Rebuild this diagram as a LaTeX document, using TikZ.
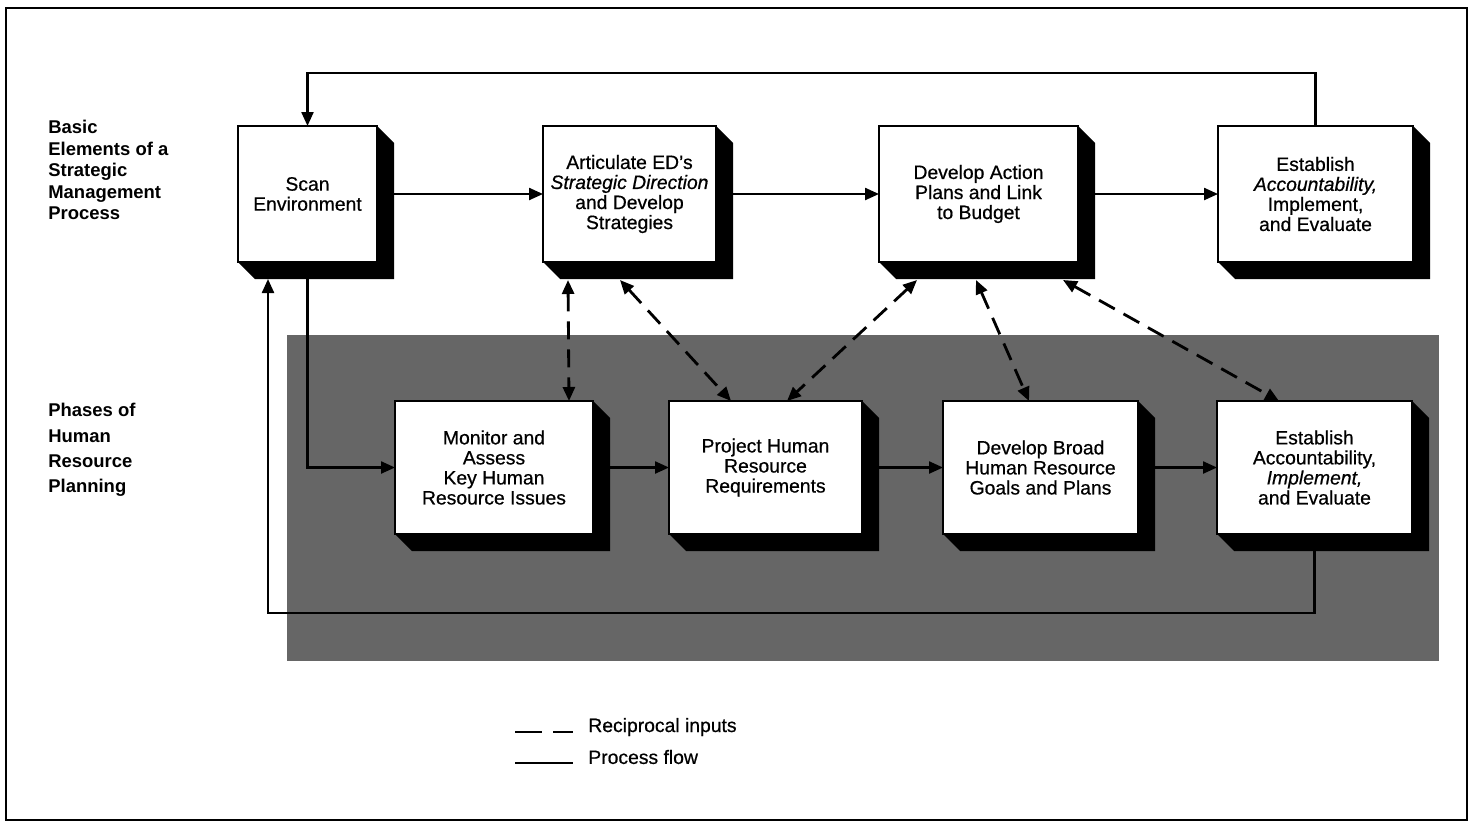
\documentclass[tikz,border=0pt]{standalone}
\usepackage{fontspec}
\setmainfont{Liberation Sans}
\newfontfamily\boxfont{Liberation Sans}[Ligatures=TeX, FakeBold=0.6]
\usetikzlibrary{arrows.meta,positioning,calc}

\begin{document}
\begin{tikzpicture}[x=0.2mm, y=-0.2mm,
        box/.style={draw, line width=1pt, fill=white, inner sep=0pt, outer sep=0pt,
                    align=center, font=\boxfont\fontsize{11}{11.4}\selectfont},
        toprow/.style={box, minimum height=27.2mm},
        lowrow/.style={box, minimum height=26.6mm},
        lbl/.style={anchor=north west, align=left, inner sep=0pt,
                    font=\fontsize{10.5}{12.2}\selectfont\bfseries},
        key/.style={anchor=west, inner sep=0pt, font=\boxfont\fontsize{11}{13}\selectfont},
        flow/.style={-{Triangle[length=2.8mm, width=2.4mm]}, line width=1.3pt},
        recip/.style={{Triangle[length=2.8mm, width=2.4mm]}-{Triangle[length=2.8mm, width=2.4mm]},
                    line width=1.6pt, dash pattern=on 3.6mm off 2mm}]
        \useasboundingbox (0,0) rectangle (1473,822);
        \draw[line width=1.2pt] (6,8) rectangle (1467,820);
        \fill[black!60] (287,335) rectangle (1439,661);

        % strategic management process
        \node[toprow, minimum width=27.8mm] (scan) at (307.5,194) {Scan\\Environment};
        \node[toprow, minimum width=34.6mm, right=33.2mm of scan] (artic)
            {Articulate ED's\\\textit{Strategic Direction}\\and Develop\\Strategies};
        \node[toprow, minimum width=39.8mm, right=32.6mm of artic] (devact)
            {Develop Action\\Plans and Link\\to Budget};
        \node[toprow, minimum width=39mm, right=28mm of devact] (estab1)
            {Establish\\\textit{Accountability,}\\Implement,\\and Evaluate};

        % human resource planning
        \node[lowrow, minimum width=39.6mm] (monitor) at (494,467.5)
            {Monitor and\\Assess\\Key Human\\Resource Issues};
        \node[lowrow, minimum width=38.6mm, right=15.2mm of monitor] (project)
            {Project Human\\Resource\\Requirements};
        \node[lowrow, minimum width=39mm, right=16.2mm of project] (broad)
            {Develop Broad\\Human Resource\\Goals and Plans};
        \node[lowrow, minimum width=39mm, right=15.8mm of broad] (estab2)
            {Establish\\Accountability,\\\textit{Implement,}\\and Evaluate};

        \node[lbl] (basic) at (48,120) {Basic\\Elements of a\\Strategic\\Management\\Process};
        \node[lbl, font=\fontsize{10.5}{14.4}\selectfont\bfseries] (phases) at (48,403)
            {Phases of\\Human\\Resource\\Planning};

        \foreach \n in {scan,artic,devact,estab1,monitor,project,broad,estab2}
          \fill (\n.north east) -- ++(3.4mm,-3.4mm) -- ([shift={(3.4mm,-3.4mm)}]\n.south east)
            -- ([shift={(3.4mm,-3.4mm)}]\n.south west) -- (\n.south west) -- (\n.south east) -- cycle;

        \draw[flow] (scan) -- (artic);
        \draw[flow] (artic) -- (devact);
        \draw[flow] (devact) -- (estab1);
        \draw[flow] (monitor) -- (project);
        \draw[flow] (project) -- (broad);
        \draw[flow] (broad) -- (estab2);
        \draw[flow] (scan.south) |- (monitor.west);

        % feedback loops
        \coordinate (fbtop) at ([yshift=10.6mm]scan.north);
        \draw[flow] (estab1.north) |- (fbtop) -- (scan.north);
        \coordinate (fbbot) at (268,613);
        \coordinate (fbin) at (fbbot |- scan.south);
        \draw[flow] (estab2.south) |- (fbbot) -- ([yshift=-3.4mm]fbin);

        % reciprocal inputs
        \draw[recip] ([xshift=5mm,yshift=-3.6mm]artic.south west) -- ([xshift=34.8mm]monitor.north west);
        \draw[recip] ([xshift=15.4mm,yshift=-3.6mm]artic.south west) -- ([xshift=12.4mm]project.north west);
        \draw[recip] ([xshift=7.6mm,yshift=-3.6mm]devact.south west) -- ([xshift=23.6mm]project.north west);
        \draw[recip] ([xshift=19.4mm,yshift=-3.6mm]devact.south west) -- ([xshift=17.2mm]broad.north west);
        \draw[recip] ([xshift=36.8mm,yshift=-3.6mm]devact.south west) -- ([xshift=12.4mm]estab2.north west);

        % legend
        \node[key] (rtext) at (588,727) {Reciprocal inputs};
        \node[key] (ptext) at (588,757) {Process flow};
        \coordinate (rkey1) at (515,732);
        \coordinate (rkey2) at (573,732);
        \coordinate (pkey1) at (515,763);
        \coordinate (pkey2) at (573,763);
        \draw[line width=1.6pt, dash pattern=on 5.4mm off 2.2mm] (rkey1) -- (rkey2);
        \draw[line width=1.3pt] (pkey1) -- (pkey2);
      \end{tikzpicture}
\end{document}
